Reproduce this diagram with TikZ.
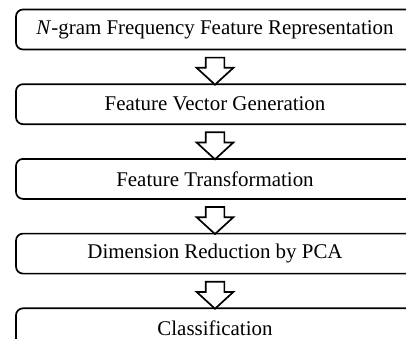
\documentclass[tikz,border=0pt]{standalone}
\usepackage{fontspec}
\setmainfont{Liberation Serif}
\usetikzlibrary{positioning,calc,shapes.arrows}

\tikzset{
  stage/.style={draw, line width=1.7bp, rounded corners=7bp,
    minimum width=398bp, minimum height=40bp, inner sep=0pt,
    font=\fontsize{21}{25}\selectfont},
  flowarrow/.style={single arrow, draw, line width=1.7bp, fill=white,
    shape border rotate=270, minimum height=27bp, inner xsep=8.5bp,
    inner ysep=0pt, single arrow head extend=9bp, single arrow tip angle=95}
}

\begin{document}
\begin{tikzpicture}[x=1bp,y=-1bp]
 \useasboundingbox (0,0) rectangle (406,339);
 \clip (0,0) rectangle (406,339);
 % stages
 \node[stage] (ngram) at (215,29.5) {\textit{N}-gram Frequency Feature Representation};
 \node[stage, below=33bp of ngram] (vector) {Feature Vector Generation};
 \node[stage, below=33bp of vector] (transform) {Feature Transformation};
 \node[stage, below=33bp of transform] (pca) {Dimension Reduction by PCA};
 \node[stage, below=33bp of pca] (classify) {Classification};
 % arrows between stages
 \node[flowarrow] (a1) at ($(ngram.south)!0.5!(vector.north)$) {};
 \node[flowarrow] (a2) at ($(vector.south)!0.5!(transform.north)$) {};
 \node[flowarrow] (a3) at ($(transform.south)!0.5!(pca.north)$) {};
 \node[flowarrow] (a4) at ($(pca.south)!0.5!(classify.north)$) {};
\end{tikzpicture}
\end{document}
